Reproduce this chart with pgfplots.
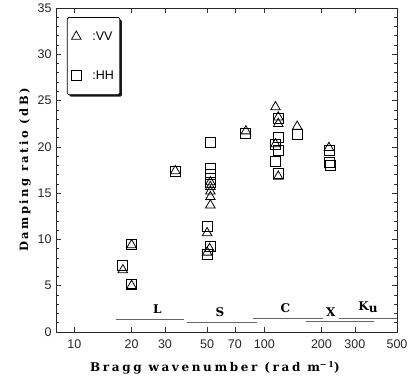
\documentclass[border=0pt]{standalone}
\usepackage{fontspec}
\setmainfont{Liberation Sans}
\newfontfamily\labfont[LetterSpace=12]{DejaVu Serif}
\newfontfamily\titlefont[LetterSpace=22]{DejaVu Serif}
\usepackage{pgfplots}
\pgfplotsset{compat=1.18}
\usetikzlibrary{shadows}

\begin{document}
\begin{tikzpicture}
\begin{axis}[
  scale only axis,
  width=341pt, height=324pt,
  xmode=log,
  xmin=8, xmax=500,
  ymin=0, ymax=35,
  log basis x=10,
  xtick={10,20,30,50,70,100,200,300,500},
  xticklabels={10,20,30,50,70,100,200,300,500},
  minor xtick={},
  ytick={0,5,...,35},
  minor y tick num=4,
  tick align=inside,
  major tick length=5pt,
  minor tick length=3pt,
  axis line style={line width=0.9pt, black!85},
  every tick/.style={line width=0.6pt, black!80},
  tick label style={font=\fontsize{12.5}{14}\selectfont, black!85},
  /pgf/number format/assume math mode=true,
  xticklabel style={yshift=-4pt},
  yticklabel style={xshift=-1pt},
  ylabel={\titlefont\bfseries\fontsize{11.5}{13}\selectfont Damping ratio (dB)},
  ylabel style={yshift=0pt},
  legend style={
    at={(0.032,0.972)}, anchor=north west,
    draw=black, line width=0.8pt, rounded corners=1.5pt,
    fill=white,
    drop shadow={shadow xshift=2pt, shadow yshift=-2pt, fill=black, opacity=0.9},
    font=\fontsize{12.5}{14}\selectfont,
    row sep=25pt, column sep=9pt, inner xsep=4pt, inner ysep=12pt,
  },
  legend cell align=left,
]

% Vertical polarisation
\addplot[only marks, mark=triangle, mark size=5.5pt, mark options={line width=0.8pt, black}]
coordinates {
  (18,6.7) (20,9.4) (20,5.0) (34,17.4)
  (50,8.6) (51.5,9.0) (50,10.7) (52,13.7) (52,14.6) (52,15.2) (52,15.7) (52,16.2)
  (80,21.7)
  (114.5,24.3) (118.5,23.2) (118.5,22.5) (114.5,20.3) (118.5,16.8)
  (149,22.2)
  (219,19.9)
};
\addlegendentry{:VV}

% Horizontal polarisation
\addplot[only marks, mark=square, mark size=5pt, mark options={line width=0.8pt, black}]
coordinates {
  (18,7.2) (20,9.5) (20,5.1) (34,17.3)
  (52,20.5) (52,17.7) (52,17.0) (52,16.2) (50,11.4) (52,9.2) (50,8.4)
  (80,21.4)
  (118.5,23.1) (118.5,21.0) (114.5,20.3) (118.5,19.6) (114.5,18.4) (118.5,17.1)
  (149,21.3)
  (219,19.6) (219,18.3) (223,18.0)
};
\addlegendentry{:HH}

% Radar band extents
\addplot[black!60, line width=0.9pt, forget plot] coordinates {(16.5,1.4) (38,1.4)};
\addplot[black!60, line width=0.9pt, forget plot] coordinates {(39.4,1.05) (91.6,1.05)};
\addplot[black!60, line width=0.9pt, forget plot] coordinates {(87.5,1.48) (204,1.48)};
\addplot[black!60, line width=0.9pt, forget plot] coordinates {(165,1.1) (380,1.1)};
\addplot[black!60, line width=0.9pt, forget plot] coordinates {(248,1.48) (500,1.48)};

\node[font=\labfont\bfseries\fontsize{12}{14}\selectfont] at (axis cs:27.3,2.5) {L};
\node[font=\labfont\bfseries\fontsize{12}{14}\selectfont] at (axis cs:58.4,2.1) {S};
\node[font=\labfont\bfseries\fontsize{12}{14}\selectfont] at (axis cs:129,2.6) {C};
\node[font=\labfont\bfseries\fontsize{12}{14}\selectfont] at (axis cs:224,2.1) {X};
\node[font=\labfont\bfseries\fontsize{12}{14}\selectfont] at (axis cs:352,2.7) {K\raisebox{-2pt}{u}};
\end{axis}
% x-axis title
\node[anchor=base west, inner sep=0pt, font=\titlefont\bfseries\fontsize{12}{14}\selectfont]
  at ([xshift=34pt,yshift=-40pt]current axis.south west)
  {Bragg wavenumber (rad m\raisebox{4.5pt}{\fontsize{8}{9}\selectfont −1})};
\path (current axis.south west) ++(-56pt,-44pt) rectangle ([xshift=17pt,yshift=8pt]current axis.north east);
\end{tikzpicture}
\end{document}
